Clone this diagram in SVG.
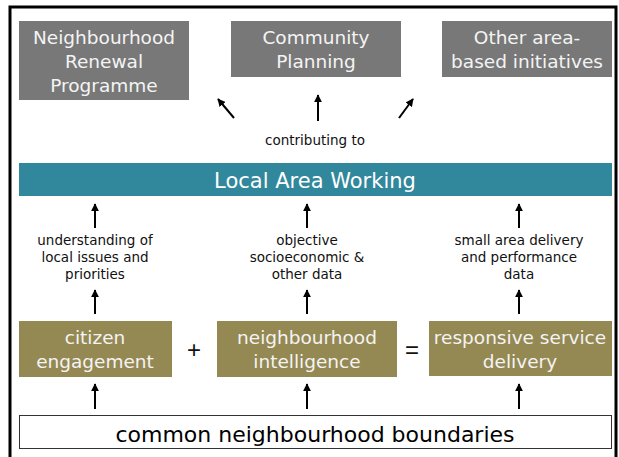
<svg xmlns="http://www.w3.org/2000/svg" width="619" height="457" viewBox="0 0 619 457">
<defs>
<marker id="ah" viewBox="0 0 10 10" refX="9" refY="5" markerWidth="4" markerHeight="4" orient="auto" markerUnits="strokeWidth">
<path d="M0,0 L10,5 L0,10 z" fill="#000"/>
</marker>
<style>
text{font-family:"DejaVu Sans","Liberation Sans",sans-serif;text-anchor:middle}
.gray{fill:#787878}
.olive{fill:#958953}
.teal{fill:#31879B}
.wt{fill:#f4f4f4;font-size:18.5px}
.lbl{fill:#111;font-size:13.5px}
.op{fill:#111;font-size:24px;font-family:"Liberation Sans",sans-serif}
.arr{stroke:#000;stroke-width:2;fill:none;marker-end:url(#ah)}
</style>
</defs>
<rect x="0" y="0" width="619" height="457" fill="#fff"/>
<path d="M10,460 V7 H616 V460" fill="none" stroke="#000" stroke-width="3"/>

<g id="nrp">
<rect class="gray" x="19" y="21" width="170" height="79"/>
<text class="wt" x="104" y="44">Neighbourhood</text>
<text class="wt" x="104" y="68">Renewal</text>
<text class="wt" x="104" y="92">Programme</text>
</g>
<g id="cp">
<rect class="gray" x="231" y="21" width="170" height="56"/>
<text class="wt" x="316" y="44">Community</text>
<text class="wt" x="316" y="68">Planning</text>
</g>
<g id="other">
<rect class="gray" x="442" y="21" width="170" height="56"/>
<text class="wt" x="527" y="44">Other area-</text>
<text class="wt" x="527" y="68">based initiatives</text>
</g>
<g id="contrib">
<text class="lbl" x="315" y="145">contributing to</text>
</g>
<g id="law">
<rect class="teal" x="19" y="163" width="593" height="33"/>
<text x="315" y="188" style="fill:#fff;font-size:21px">Local Area Working</text>
</g>
<g id="lbl1">
<text class="lbl" x="95" y="245">understanding of</text>
<text class="lbl" x="95" y="262">local issues and</text>
<text class="lbl" x="95" y="279">priorities</text>
</g>
<g id="lbl2">
<text class="lbl" x="307" y="245">objective</text>
<text class="lbl" x="307" y="262">socioeconomic &amp;</text>
<text class="lbl" x="307" y="279">other data</text>
</g>
<g id="lbl3">
<text class="lbl" x="519" y="245">small area delivery</text>
<text class="lbl" x="519" y="262">and performance</text>
<text class="lbl" x="519" y="279">data</text>
</g>
<g id="citizen">
<rect class="olive" x="19" y="321" width="153" height="56"/>
<text class="wt" x="95" y="344">citizen</text>
<text class="wt" x="95" y="368">engagement</text>
</g>
<g id="plus"><text class="op" x="194" y="358">+</text></g>
<g id="intel">
<rect class="olive" x="217" y="321" width="180" height="56"/>
<text class="wt" x="307" y="344">neighbourhood</text>
<text class="wt" x="307" y="368">intelligence</text>
</g>
<g id="eq"><text class="op" x="412" y="358">=</text></g>
<g id="resp">
<rect class="olive" x="429" y="321" width="183" height="55"/>
<text class="wt" x="520" y="344">responsive service</text>
<text class="wt" x="520" y="368">delivery</text>
</g>
<g id="boundaries">
<rect x="19.5" y="415.5" width="592" height="33" fill="#fff" stroke="#333" stroke-width="1"/>
<text x="315" y="442" style="fill:#000;font-size:22px">common neighbourhood boundaries</text>
</g>

<g id="connectors">
<line class="arr" x1="234" y1="118" x2="218" y2="99"/>
<line class="arr" x1="318" y1="121" x2="318" y2="95"/>
<line class="arr" x1="399" y1="118" x2="413" y2="99"/>
<line class="arr" x1="95" y1="228" x2="95" y2="204"/>
<line class="arr" x1="307" y1="228" x2="307" y2="204"/>
<line class="arr" x1="519" y1="228" x2="519" y2="204"/>
<line class="arr" x1="95" y1="314" x2="95" y2="290"/>
<line class="arr" x1="307" y1="314" x2="307" y2="290"/>
<line class="arr" x1="519" y1="314" x2="519" y2="290"/>
<line class="arr" x1="95" y1="409" x2="95" y2="384"/>
<line class="arr" x1="307" y1="409" x2="307" y2="384"/>
<line class="arr" x1="519" y1="409" x2="519" y2="384"/>
</g>
</svg>
